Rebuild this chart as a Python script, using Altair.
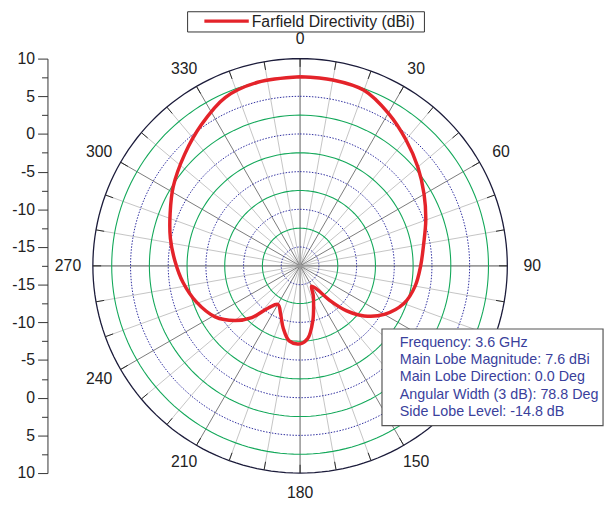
import altair as alt
import pandas as pd

# ---- data ----
angles_deg = [0, 10, 20, 30, 40, 50, 60, 70, 80, 90, 100, 110, 120, 128, 134, 139, 144,
              150.5, 156, 161, 167, 174, 180, 188, 195, 202, 209.8, 217, 223, 230, 239,
              251, 262, 272, 282, 292, 302, 314, 325, 336, 347, 360]
directivity_dbi = [7.6, 7.55, 7.3, 5.9, 4.35, 2.9, 1.5, 0.25, -0.85, -1.5, -2.0, -2.85, -4.6,
                   -6.7, -8.9, -11.3, -13.6, -14.4, -13.2, -12.0, -10.0, -7.8, -7.15, -7.4,
                   -8.9, -10.6, -11.6, -10.5, -8.1, -6.2, -4.35, -2.9, -1.8, -0.9, 0.1, 1.1,
                   2.35, 3.8, 5.35, 6.95, 7.5, 7.6]
series_name = "Farfield Directivity (dBi)"

r_min = -17.5          # value at the centre of the polar plot
r_max = 10.0           # value of the outer circle
green_rings = [-12.5, -7.5, -2.5, 2.5, 7.5]
blue_rings = [-15, -10, -5, 0, 5]
outer_ring = [10]
spoke_angles = list(range(0, 360, 10))
label_angles = [0, 30, 60, 90, 150, 180, 210, 240, 270, 300, 330]   # 120 is hidden by the info box
radial_tick_values = [-27.5, -25, -22.5, -20, -17.5, -15, -12.5, -10, -7.5, -5, -2.5, 0,
                      2.5, 5, 7.5, 10, 12.5, 15, 17.5, 20, 22.5, 25, 27.5]
info_lines = ["Frequency: 3.6 GHz",
              "Main Lobe Magnitude: 7.6 dBi",
              "Main Lobe Direction: 0.0 Deg",
              "Angular Width (3 dB): 78.8 Deg",
              "Side Lobe Level: -14.8 dB"]

FONT = "Liberation Sans"
RED = "#e4232a"
span = r_max - r_min
dom = [-span, span]

pattern_df = pd.DataFrame({"angle": angles_deg, "db": directivity_dbi, "series": series_name})
ring_samples = list(range(0, 361, 2))
def ring_frame(levels):
    return pd.DataFrame([{"level": l, "a": a} for l in levels for a in ring_samples])
spoke_df = pd.DataFrame({"a": spoke_angles})
label_df = pd.DataFrame({"a": label_angles})
one = pd.DataFrame({"k": [0]})

y_axis = alt.Axis(
    values=radial_tick_values,
    labelExpr="(abs(datum.value) - 2.5) % 5 == 0 ? '' + (abs(datum.value) - 17.5) : ''",
    tickSize={"condition": {"test": "(abs(datum.value) - 2.5) % 5 == 0", "value": 10}, "value": 6},
    offset=46, domainColor="#333333", tickColor="#333333", domainWidth=1, tickWidth=1,
    labelFont=FONT, labelFontSize=16, labelColor="#222222", labelPadding=3,
    labelOverlap=False, labelFlush=False, grid=False, title=None,
)

def X(f):
    return alt.X(f"{f}:Q", scale=alt.Scale(domain=dom, nice=False, zero=False), axis=None)

def Y(f):
    return alt.Y(f"{f}:Q", scale=alt.Scale(domain=dom, nice=False, zero=False), axis=y_axis)

SIN = "sin(datum.a * PI / 180)"
COS = "cos(datum.a * PI / 180)"

def rings(levels, color, width, dash=None):
    kw = dict(color=color, strokeWidth=width)
    if dash:
        kw["strokeDash"] = dash
    return alt.Chart(ring_frame(levels)).mark_line(**kw).transform_calculate(
        px=f"(datum.level - {r_min}) * {SIN}",
        py=f"(datum.level - {r_min}) * {COS}",
    ).encode(x=X("px"), y=Y("py"), detail="level:N", order="a:Q")

def spokes(test, color, width):
    return alt.Chart(spoke_df).transform_filter(test).mark_rule(
        color=color, strokeWidth=width).transform_calculate(
        px="0", py="0", qx=f"{span} * {SIN}", qy=f"{span} * {COS}",
    ).encode(x=X("px"), y=Y("py"), x2="qx:Q", y2="qy:Q")

light = spokes("datum.a % 30 != 0", "#c4c4c4", 1)
dark = spokes("datum.a % 30 == 0 && datum.a % 90 != 0", "#7a7a7a", 1)
main = spokes("datum.a % 90 == 0", "#9a9a9a", 1.6)

green = rings(green_rings, "#13a85a", 1.1)
blue = rings(blue_rings, "#2e2e9e", 1, [1.5, 1.5])
outer = rings(outer_ring, "#1b1b3a", 1.3)

ticks = alt.Chart(spoke_df).mark_rule(color="#2a2a2a", strokeWidth=1).transform_calculate(
    px=f"{span - 1.1} * {SIN}", py=f"{span - 1.1} * {COS}",
    qx=f"{span} * {SIN}", qy=f"{span} * {COS}",
).encode(x=X("px"), y=Y("py"), x2="qx:Q", y2="qy:Q")

pattern = alt.Chart(pattern_df).mark_line(
    strokeWidth=3.5, interpolate="catmull-rom", color=RED).transform_calculate(
    px=f"(datum.db - {r_min}) * sin(datum.angle * PI / 180)",
    py=f"(datum.db - {r_min}) * cos(datum.angle * PI / 180)",
).encode(x=X("px"), y=Y("py"), order="angle:Q")

labels = alt.Chart(label_df).mark_text(
    font=FONT, fontSize=16, color="#222222", align="center", baseline="middle").transform_calculate(
    px=f"30.8 * {SIN}", py=f"30.1 * {COS}", t="'' + datum.a",
).encode(x=X("px"), y=Y("py"), text="t:N")

# legend box (top)
legend_box = alt.Chart(one).mark_rect(fill="white", stroke="#333333", strokeWidth=1).encode(
    x=alt.value(96), x2=alt.value(336), y=alt.value(-47.5), y2=alt.value(-27))
legend_line = alt.Chart(one).mark_rule(color=RED, strokeWidth=3.5).encode(
    x=alt.value(113), x2=alt.value(158), y=alt.value(-38))
legend_text = alt.Chart(one).mark_text(
    font=FONT, fontSize=16, color="#222222", align="left", baseline="middle").encode(
    x=alt.value(161), y=alt.value(-37), text=alt.value(series_name))

# info box
info_box = alt.Chart(one).mark_rect(
    fill="white", stroke="#555555", strokeWidth=1.2).encode(
    x=alt.value(293), x2=alt.value(517), y=alt.value(274), y2=alt.value(372))
info_text = alt.Chart(one).mark_text(
    font=FONT, fontSize=14.5, color="#3a3f9c", align="left", baseline="middle",
    lineHeight=17.6).encode(
    x=alt.value(311), y=alt.value(288), text=alt.value(info_lines))

chart = alt.layer(light, dark, main, green, blue, outer, ticks, pattern, labels,
                  legend_box, legend_line, legend_text, info_box, info_text).properties(
    width=420, height=420,
    autosize=alt.AutoSizeParams(type="none"),
    padding={"left": 86, "top": 48, "right": 100, "bottom": 24},
).configure(background="white").configure_view(stroke=None)

chart.save("out.html", embed_options={"renderer": "svg", "actions": False})
